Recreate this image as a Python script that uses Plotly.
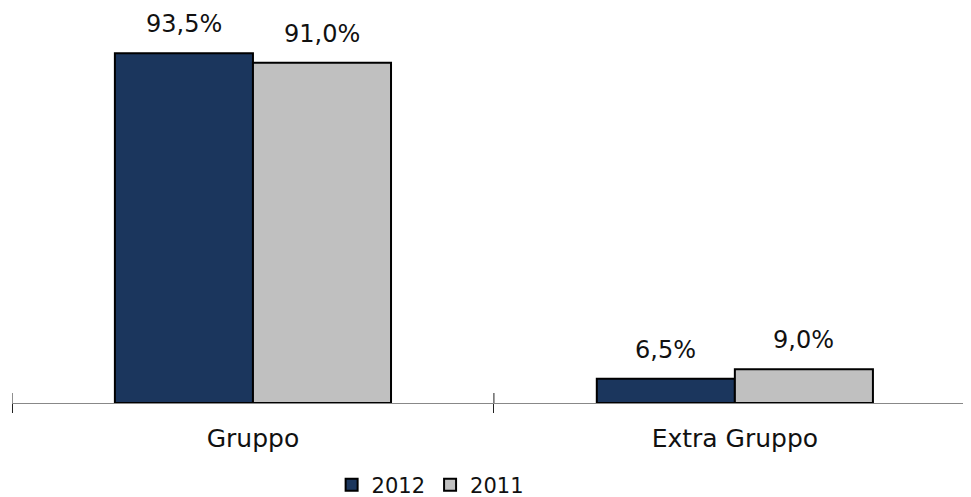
import plotly.graph_objects as go

categories = ["Gruppo", "Extra Gruppo"]
series_names = ["2012", "2011"]
values_2012 = [93.5, 6.5]
values_2011 = [91.0, 9.0]
labels_2012 = ["93,5%", "6,5%"]
labels_2011 = ["91,0%", "9,0%"]

colors = ["#1B365D", "#C0C0C0"]
FONT = "DejaVu Sans, Verdana, sans-serif"

# page body has an 8px margin, so the figure is sized to the visible area
W, H = 963, 489
ML, MR, MT, MB = 4, 0, 21, 94
x_range = [-0.5, 1.49]
bargap = 0.427

plot_w = W - ML - MR
px_per_cat = plot_w / (x_range[1] - x_range[0])
bar_w_px = px_per_cat * (1 - bargap) / 2

fig = go.Figure()
for name, vals, col in zip(series_names, [values_2012, values_2011], colors):
    fig.add_trace(go.Bar(
        x=categories, y=vals, name=name,
        marker=dict(color=col, line=dict(color="#000000", width=2)),
    ))

annotations = []
for sign, vals, labs in [(-1, values_2012, labels_2012), (1, values_2011, labels_2011)]:
    for c, v, t in zip(categories, vals, labs):
        annotations.append(dict(
            x=c, y=v, xref="x", yref="y", text=t, showarrow=False,
            xanchor="center", yanchor="bottom",
            xshift=sign * bar_w_px / 2, yshift=13,
            font=dict(family=FONT, size=24, color="#111111"),
        ))

# upper half of the crossing tick marks (lower half comes from the axis ticks)
shapes = []
for xb in [-0.5, 0.5, 1.5]:
    shapes.append(dict(
        type="line", xref="x", yref="y", x0=xb, x1=xb,
        ysizemode="pixel", yanchor=0, y0=0, y1=10,
        line=dict(color="#222222", width=1),
    ))

fig.update_layout(
    width=W, height=H,
    margin=dict(l=ML, r=MR, t=MT, b=MB, autoexpand=False),
    paper_bgcolor="white", plot_bgcolor="white",
    barmode="group", bargap=bargap, bargroupgap=0,
    font=dict(family=FONT, size=24, color="#111111"),
    xaxis=dict(
        range=x_range, showline=True, linecolor="#888888", linewidth=1,
        ticks="outside", tickson="boundaries", ticklen=9,
        tickcolor="#222222", tickwidth=1,
        showgrid=False, zeroline=False,
        tickfont=dict(family=FONT, size=25, color="#111111"),
        ticklabelstandoff=13,
    ),
    yaxis=dict(range=[0, 100], visible=False, showgrid=False, zeroline=False),
    legend=dict(
        orientation="h", x=0.436, xanchor="center",
        y=0.0245, yref="container", yanchor="middle",
        font=dict(family=FONT, size=21, color="#111111"),
        itemwidth=30, traceorder="normal",
    ),
    annotations=annotations,
    shapes=shapes,
    showlegend=True,
)

fig.write_html("out.html")
